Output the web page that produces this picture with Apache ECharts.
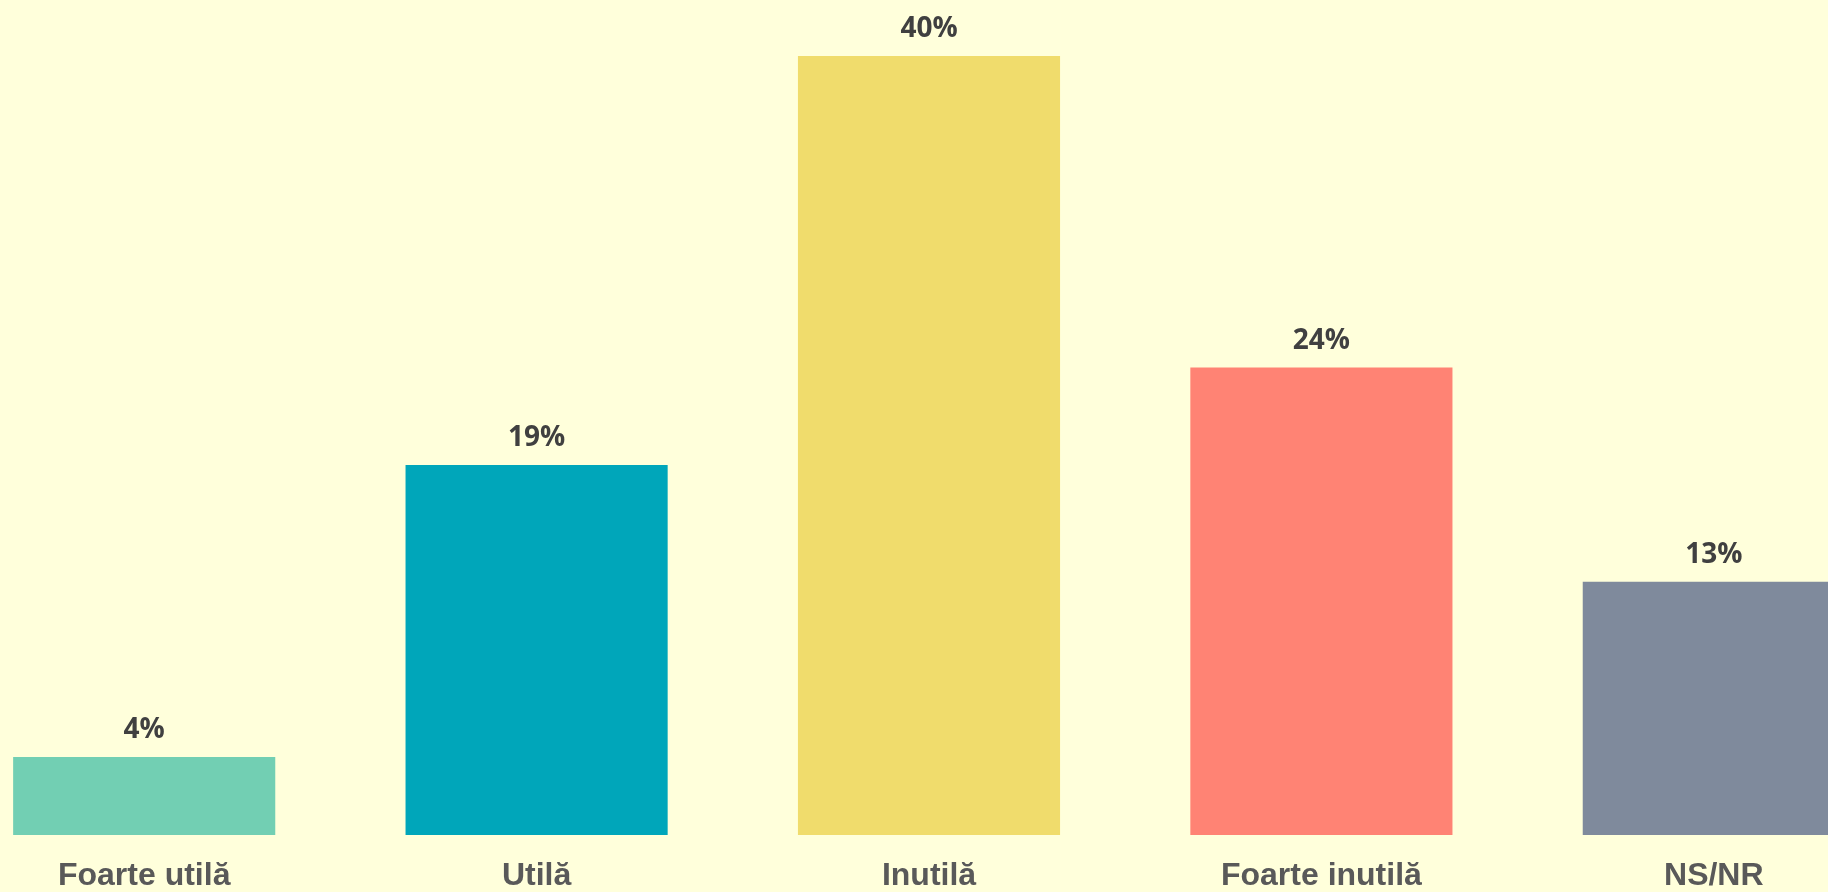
<!DOCTYPE html>
<html>
<head>
<meta charset="utf-8">
<script src="https://cdn.jsdelivr.net/npm/echarts@6/dist/echarts.min.js"></script>
<style>
html,body{margin:0;padding:0;background:#FFFFDB;overflow:hidden;width:1828px;height:892px;position:relative;}
#chart{position:absolute;left:-52px;top:0;width:1962px;height:892px;}
</style>
</head>
<body>
<div id="chart"></div>
<script>
const categories = ['Foarte utilă', 'Utilă', 'Inutilă', 'Foarte inutilă', 'NS/NR'];
const values = [4, 19, 40, 24, 13];
const barColors = ['#72CFB3', '#00A6BA', '#F0DC6C', '#FF8374', '#7F8A9C'];

const chart = echarts.init(document.getElementById('chart'));
chart.setOption({
  backgroundColor: '#FFFFDB',
  animation: false,
  grid: { left: 0, right: 0, top: 56, bottom: 51, containLabel: false },
  xAxis: {
    type: 'category',
    data: categories,
    axisLine: { show: false },
    axisTick: { show: false },
    axisLabel: {
      color: '#595959',
      fontFamily: 'Liberation Sans, Arial, sans-serif',
      fontWeight: 'bold',
      fontSize: 32,
      margin: 25
    }
  },
  yAxis: {
    type: 'value',
    min: 0,
    max: 40,
    show: false,
    splitLine: { show: false }
  },
  series: [{
    type: 'bar',
    data: values.map((v, i) => ({ value: v, itemStyle: { color: barColors[i] } })),
    barCategoryGap: '33.2%',
    label: {
      show: true,
      position: 'top',
      distance: 13,
      formatter: '{c}%',
      color: '#404040',
      fontFamily: 'Open Sans, sans-serif',
      fontWeight: 'bold',
      fontSize: 28
    }
  }]
});
</script>
</body>
</html>
